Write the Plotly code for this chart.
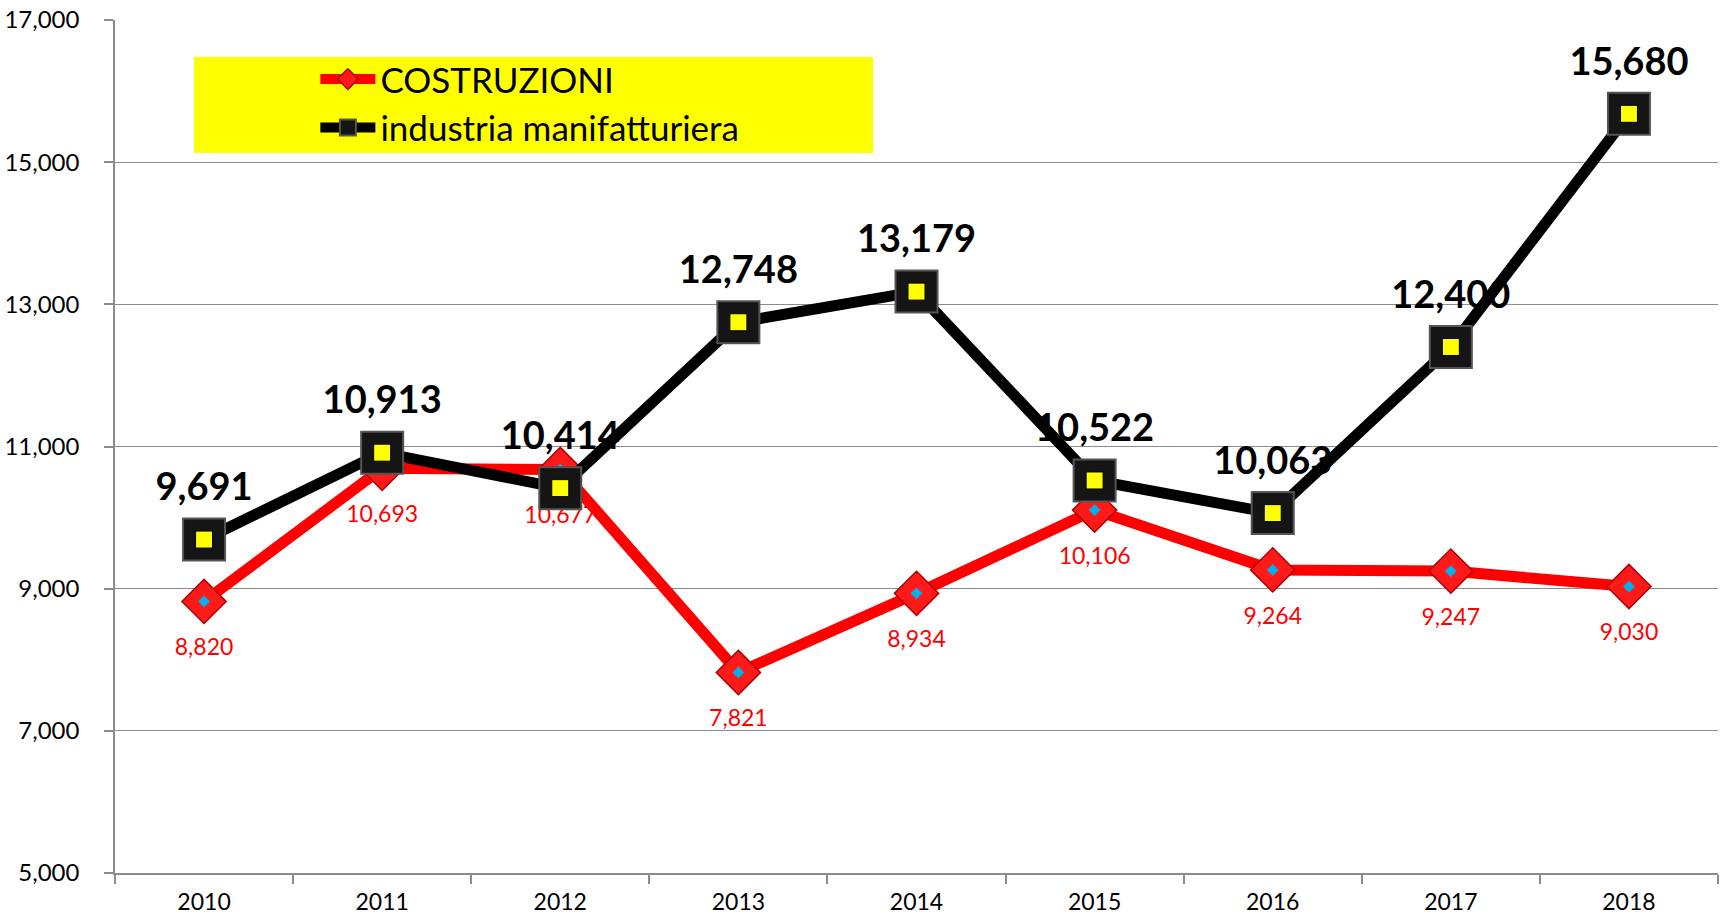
import plotly.graph_objects as go

years = ['2010', '2011', '2012', '2013', '2014', '2015', '2016', '2017', '2018']
costruzioni = [8820, 10693, 10677, 7821, 8934, 10106, 9264, 9247, 9030]
industria = [9691, 10913, 10414, 12748, 13179, 10522, 10063, 12400, 15680]
y_ticks = [5000, 7000, 9000, 11000, 13000, 15000, 17000]

FONT = "Lato"

fig = go.Figure()

# black series labels (drawn below lines)
fig.add_trace(go.Scatter(
    x=years, y=industria, mode='markers+text', showlegend=False, hoverinfo='skip',
    marker=dict(size=46, opacity=0),
    texttemplate='%{y:,}', textposition='top center',
    textfont=dict(family=FONT, size=38, color='#000000', weight='bold'),
))

# red series
fig.add_trace(go.Scatter(
    x=years, y=costruzioni, mode='lines+markers', name='COSTRUZIONI',
    line=dict(color='#ff0000', width=11),
    marker=dict(symbol='diamond', size=34, color='#ff1a1a',
                line=dict(color='#b00000', width=1.5)),
))
fig.add_trace(go.Scatter(
    x=years, y=costruzioni, mode='markers', showlegend=False, hoverinfo='skip',
    marker=dict(symbol='diamond', size=9, color='#00b0f0', line=dict(width=0)),
))
fig.add_trace(go.Scatter(
    x=years, y=costruzioni, mode='markers+text', showlegend=False, hoverinfo='skip',
    marker=dict(size=57, opacity=0),
    texttemplate='%{y:,}', textposition='bottom center',
    textfont=dict(family=FONT, size=23, color='#ff0000'),
))

# black series
fig.add_trace(go.Scatter(
    x=years, y=industria, mode='lines+markers', name='industria manifatturiera',
    line=dict(color='#000000', width=11),
    marker=dict(symbol='square', size=42, color='#151515',
                line=dict(color='#555555', width=2)),
))
fig.add_trace(go.Scatter(
    x=years, y=industria, mode='markers', showlegend=False, hoverinfo='skip',
    marker=dict(symbol='square', size=17, color='#ffff00',
                line=dict(color='#000000', width=1)),
))

fig.add_shape(type='rect', xref='paper', yref='paper',
              x0=0.0493, x1=0.4729, y0=0.844, y1=0.9566,
              fillcolor='#ffff00', line=dict(width=0), layer='below')

fig.update_layout(
    width=1721, height=921,
    margin=dict(l=115, r=3, t=20, b=48),
    paper_bgcolor='white', plot_bgcolor='white',
    font=dict(family=FONT, color='#000000'),
    showlegend=True,
    legend=dict(x=0.125, y=0.965, xanchor='left', yanchor='top',
                bgcolor='rgba(0,0,0,0)', font=dict(family=FONT, size=35, color='#000000'),
                itemsizing='trace', itemwidth=55, tracegroupgap=0),
    xaxis=dict(
        type='category', range=[-0.5, 8.5], automargin=False,
        showline=True, linecolor='#8c8c8c', linewidth=1.5,
        ticks='outside', tickson='boundaries', ticklen=9, tickcolor='#8c8c8c', tickwidth=1.5,
        showgrid=False, tickfont=dict(family=FONT, size=23, color='#000000'),
        ticklabelstandoff=8,
    ),
    yaxis=dict(
        range=[5000, 17000], tickvals=y_ticks, tickformat=',', automargin=False,
        showline=True, linecolor='#8c8c8c', linewidth=1.5,
        ticks='outside', ticklen=9, tickcolor='#8c8c8c', tickwidth=1.5,
        showgrid=True, gridcolor='#8c8c8c', gridwidth=1.2, zeroline=False,
        tickfont=dict(family=FONT, size=24, color='#000000'),
        ticklabelstandoff=20,
    ),
)

fig.write_html("out.html", config={'displayModeBar': False},
               post_script="document.body.style.margin='0';document.body.style.overflow='hidden';")
